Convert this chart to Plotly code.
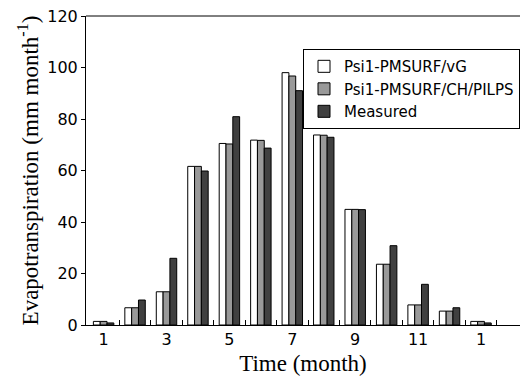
import plotly.graph_objects as go

months = [1, 2, 3, 4, 5, 6, 7, 8, 9, 10, 11, 12, 13]
tick_positions = [1, 3, 5, 7, 9, 11, 13]
tick_labels = ["1", "3", "5", "7", "9", "11", "1"]
boundaries = [1.5, 2.5, 3.5, 4.5, 5.5, 6.5, 7.5, 8.5, 9.5, 10.5, 11.5, 12.5, 13.5]

psi_vg = [1.4, 6.7, 12.9, 61.6, 70.5, 71.8, 98.0, 73.8, 44.9, 23.6, 7.8, 5.4, 1.4]
psi_ch = [1.4, 6.7, 12.9, 61.6, 70.3, 71.7, 96.7, 73.7, 44.9, 23.6, 7.8, 5.4, 1.4]
measured = [0.8, 9.7, 25.9, 59.8, 80.9, 68.7, 91.0, 72.9, 44.8, 30.8, 15.8, 6.7, 0.8]

names = ["Psi1-PMSURF/vG", "Psi1-PMSURF/CH/PILPS", "Measured"]
colors = ["#ffffff", "#999999", "#404040"]

SANS = "DejaVu Sans, Arial"
SERIF = "Liberation Serif, Times New Roman"

fig = go.Figure()
for name, vals, col in zip(names, [psi_vg, psi_ch, measured], colors):
    fig.add_trace(go.Bar(x=months, y=vals, name=name,
                         marker=dict(color=col, line=dict(color="black", width=1))))

# invisible helper trace on second x axis for boundary ticks
fig.add_trace(go.Scatter(x=[boundaries[0]], y=[0], xaxis="x2", mode="markers",
                         marker=dict(opacity=0), showlegend=False, hoverinfo="skip"))

xr = [0.44, 14.24]
fig.update_layout(
    width=520, height=385,
    margin=dict(l=86, r=0, t=16, b=60, autoexpand=False),
    paper_bgcolor="white", plot_bgcolor="white",
    barmode="group", bargap=0.35, bargroupgap=0,
    font=dict(family=SANS, color="black"),
    xaxis=dict(range=xr, tickmode="array", tickvals=tick_positions, ticktext=tick_labels,
               ticks="", showline=True, linecolor="black", linewidth=1,
               showgrid=False, zeroline=False, tickfont=dict(size=16),
               title=dict(text="Time (month)", font=dict(family=SERIF, size=23),
                          standoff=6)),
    xaxis2=dict(range=xr, overlaying="x", anchor="y", side="bottom", tickmode="array",
                tickvals=boundaries, ticks="inside", ticklen=5, tickcolor="black", tickwidth=1,
                showticklabels=False, showline=False, showgrid=False, zeroline=False),
    yaxis=dict(range=[0, 120], tickvals=[0, 20, 40, 60, 80, 100, 120],
               ticks="outside", ticklen=4, tickcolor="black", showline=True, linecolor="black",
               linewidth=1, showgrid=False, zeroline=False, tickfont=dict(size=16),
               title=dict(text="Evapotranspiration (mm month<sup>-1</sup>)",
                          font=dict(family=SERIF, size=23), standoff=2)),
    legend=dict(x=0.50, y=0.893, xanchor="left", yanchor="top",
                bordercolor="black", borderwidth=1, bgcolor="white",
                font=dict(size=15, family=SANS), traceorder="normal", itemwidth=30,
                tracegroupgap=0),
    shapes=[dict(type="line", xref="paper", yref="paper", x0=0, x1=1, y0=1, y1=1,
                 line=dict(color="black", width=1))],
)

fig.write_html("out.html")
